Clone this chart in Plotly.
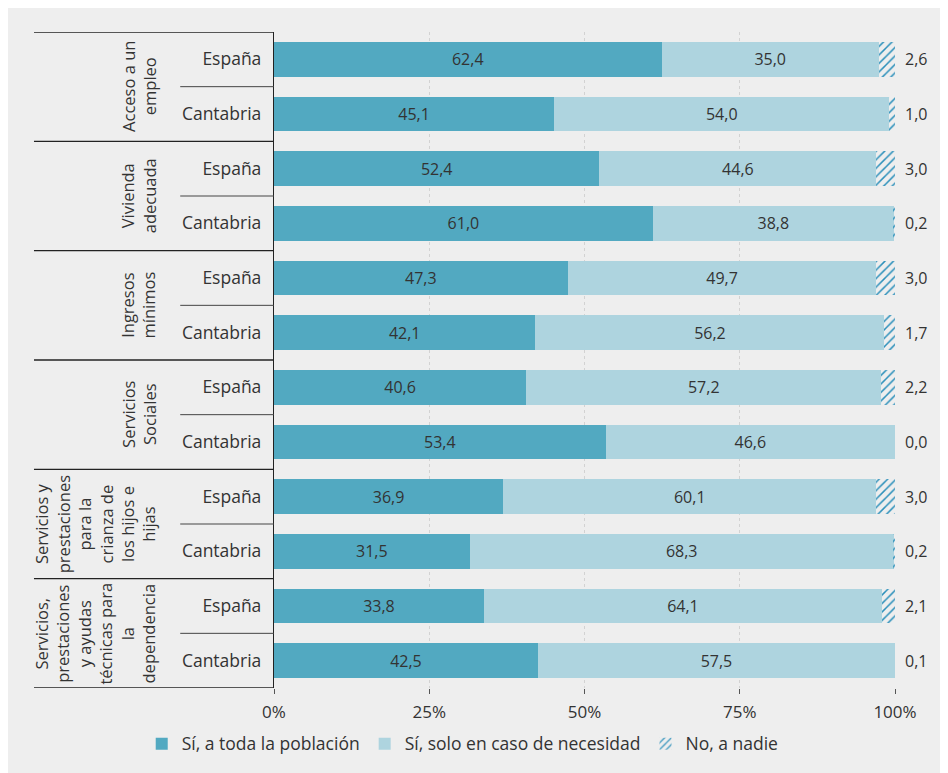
import plotly.graph_objects as go

# ---- data ----
groups = [
    "Acceso a un<br>empleo",
    "Vivienda<br>adecuada",
    "Ingresos<br>mínimos",
    "Servicios<br>Sociales",
    "Servicios y<br>prestaciones<br>para la<br>crianza de<br>los hijos e<br>hijas",
    "Servicios,<br>prestaciones<br>y ayudas<br>técnicas para<br>la<br>dependencia",
]
regions = ["España", "Cantabria"]
si_todos = [62.4, 45.1, 52.4, 61.0, 47.3, 42.1, 40.6, 53.4, 36.9, 31.5, 33.8, 42.5]
si_necesidad = [35.0, 54.0, 44.6, 38.8, 49.7, 56.2, 57.2, 46.6, 60.1, 68.3, 64.1, 57.5]
no_nadie = [2.6, 1.0, 3.0, 0.2, 3.0, 1.7, 2.2, 0.0, 3.0, 0.2, 2.1, 0.1]
series_names = ["Sí, a toda la población", "Sí, solo en caso de necesidad", "No, a nadie"]
x_ticks = [0, 25, 50, 75, 100]
x_ticklabels = ["0%", "25%", "50%", "75%", "100%"]

# ---- styling ----
FONT = "Open Sans"
TXT = "#333333"
C_DARK = "#52a9c1"
C_LIGHT = "#aed4df"
C_HATCH = "#2a8fba"
BG = "#eeeeee"

keys = [f"{gi}|{r}" for gi in range(len(groups)) for r in regions]
ticktext = [k.split("|")[1] for k in keys]

fig = go.Figure()
fig.add_trace(go.Bar(
    y=keys, x=si_todos, orientation="h", name=series_names[0],
    marker=dict(color=C_DARK, line=dict(width=0)),
    texttemplate="%{x:.1f}", textposition="inside", insidetextanchor="middle",
    textfont=dict(color=TXT, size=16, family=FONT), width=0.64,
))
fig.add_trace(go.Bar(
    y=keys, x=si_necesidad, orientation="h", name=series_names[1],
    marker=dict(color=C_LIGHT, line=dict(width=0)),
    texttemplate="%{x:.1f}", textposition="inside", insidetextanchor="middle",
    textfont=dict(color=TXT, size=16, family=FONT), width=0.64,
))
fig.add_trace(go.Bar(
    y=keys, x=no_nadie, orientation="h", name=series_names[2],
    marker=dict(color=C_HATCH, line=dict(width=0),
                pattern=dict(shape="/", fillmode="replace", size=6, solidity=0.25,
                             bgcolor="rgba(0,0,0,0)")),
    textposition="none", width=0.64,
))

annotations = []
for k, v in zip(keys, no_nadie):
    annotations.append(dict(
        x=100, y=k, xref="x", yref="y", xanchor="left", xshift=8,
        text=f"{v:.1f}".replace(".", ","), showarrow=False,
        font=dict(size=16, color=TXT, family=FONT),
    ))
for gi, g in enumerate(groups):
    annotations.append(dict(
        x=-0.18, xref="paper", y=2 * gi + 0.5, yref="y",
        xanchor="right", yanchor="middle", textangle=-90, align="center",
        text=g, showarrow=False, font=dict(size=16.5, color=TXT, family=FONT),
    ))

shapes = []
for gi in range(len(groups) + 1):
    yv = 2 * gi - 0.5
    shapes.append(dict(type="line", xref="paper", yref="y", x0=-0.3865, x1=0,
                       y0=yv, y1=yv, line=dict(color="#222222", width=1.3)))
for gi in range(len(groups)):
    yv = 2 * gi + 0.5
    shapes.append(dict(type="line", xref="paper", yref="y", x0=-0.151, x1=0,
                       y0=yv, y1=yv, line=dict(color="#444444", width=1)))

fig.update_layout(
    width=948, height=773,
    barmode="stack", separators=",.",
    paper_bgcolor=BG, plot_bgcolor=BG,
    margin=dict(l=266, r=61, t=24, b=93, autoexpand=False),
    font=dict(family=FONT, color=TXT, size=16),
    showlegend=True,
    legend=dict(orientation="h", xref="paper", yref="paper",
                x=-0.213, xanchor="left", y=-0.085, yanchor="middle",
                font=dict(size=17.5, family=FONT, color=TXT), bgcolor="rgba(0,0,0,0)",
                traceorder="normal"),
    annotations=annotations, shapes=shapes,
)
fig.update_xaxes(
    range=[0, 100], tickvals=x_ticks, ticktext=x_ticklabels,
    showgrid=True, gridcolor="#d2d2d2", griddash="dot", gridwidth=1,
    zeroline=False, ticks="outside", ticklen=5, tickcolor="#555555",
    showline=False, tickfont=dict(size=17, family=FONT, color=TXT),
    ticklabelstandoff=4,
)
fig.update_yaxes(
    type="category", categoryorder="array", categoryarray=keys,
    tickvals=keys, ticktext=ticktext, range=[11.5, -0.5],
    showline=True, linecolor="#222222", linewidth=1.3, ticks="",
    showgrid=False, ticklabelstandoff=8,
    tickfont=dict(size=17.5, family=FONT, color=TXT),
)

fig.write_html("out.html")
